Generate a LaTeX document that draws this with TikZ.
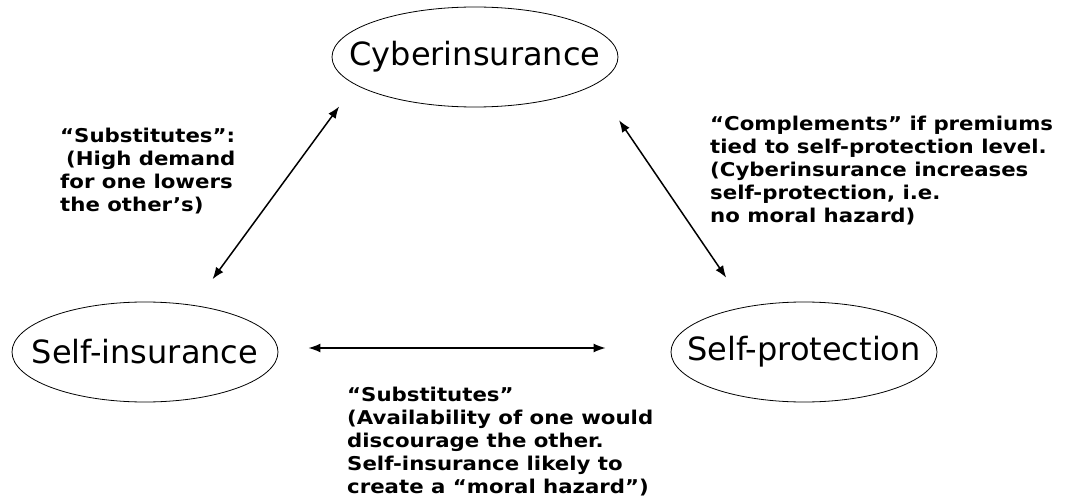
\documentclass[tikz,border=0pt]{standalone}
\usepackage{fontspec}
\setmainfont{DejaVu Sans}
\newfontfamily\remarkfont[FakeStretch=1.12]{DejaVu Sans Bold}
\usetikzlibrary{arrows.meta,shapes.geometric}

\begin{document}
\begin{tikzpicture}[
    x=1pt, y=-1pt,
    >={Latex[length=12pt,width=9pt]},
    concept/.style={draw, ellipse, line width=0.8pt, inner xsep=-35pt,
      inner ysep=0pt, minimum width=266pt, minimum height=100pt,
      font=\fontsize{32}{36}\selectfont},
    remark/.style={anchor=north west, inner sep=0pt, align=left,
      font=\remarkfont\fontsize{19}{23}\selectfont},
    link/.style={<->, line width=1.5pt},
  ]

  % page frame, same size as the reference
  \useasboundingbox (0,0) rectangle (1065,497);

  % ------------------------------------------------------------------
  % the three ways of handling risk
  % ------------------------------------------------------------------
  \node[concept, minimum width=286pt] (cyber)    at (475,57)  {Cyberinsurance};
  \node[concept]                      (selfins)  at (145,352) {Self-insurance};
  \node[concept]                      (selfprot) at (804,352) {Self-protection};

  % ------------------------------------------------------------------
  % relations between them (double-headed, with a gap at each node)
  % ------------------------------------------------------------------
  \draw[link, shorten <=27pt, shorten >=32pt] (cyber.193) -- (selfins.44);
  \draw[link, shorten <=43pt, shorten >=35pt] (cyber.347) -- (selfprot.142);
  \draw[link, shorten <=30pt, shorten >=65pt]
       ([yshift=4pt]selfins.east) -- ([yshift=4pt]selfprot.west);

  % ------------------------------------------------------------------
  % comments on each relation
  % ------------------------------------------------------------------
  \node[remark] (subsleft) at (60,128)
       {“Substitutes”:\\\hspace{6pt}(High demand\\for one lowers\\the other’s)};
  \node[remark] (compright) at (710,116)
       {“Complements” if premiums\\tied to self-protection level.\\(Cyberinsurance increases\\self-protection, i.e.\\no moral hazard)};
  \node[remark] (subsbottom) at (347,387)
       {“Substitutes”\\(Availability of one would\\discourage the other.\\Self-insurance likely to\\create a “moral hazard”)};

\end{tikzpicture}
\end{document}
